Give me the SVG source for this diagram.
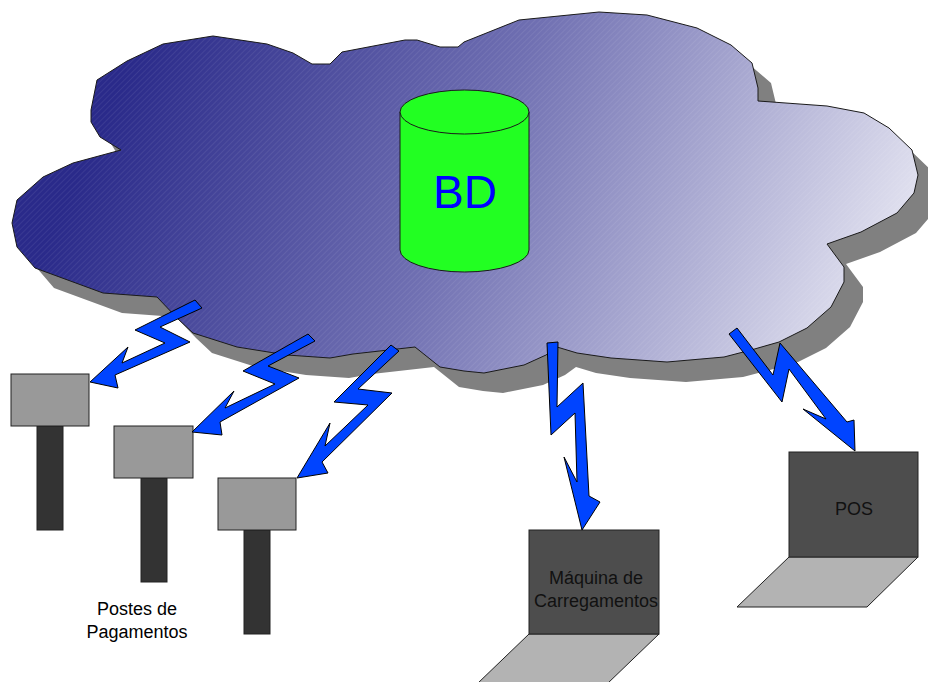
<svg xmlns="http://www.w3.org/2000/svg" width="928" height="682" viewBox="0 0 928 682">
  <style>
    .outline { stroke: #1a1a1a; stroke-width: 1; stroke-linejoin: miter; }
    .bolt { fill: #0044ff; stroke: #000000; stroke-width: 1; stroke-linejoin: miter; }
    .head { fill: #999999; stroke: #222222; stroke-width: 1; }
    .pole { fill: #333333; stroke: #222222; stroke-width: 1; }
    .screen { fill: #4d4d4d; stroke: #222222; stroke-width: 1; }
    .base { fill: #b3b3b3; stroke: #222222; stroke-width: 1; }
    .label { font-family: "Liberation Sans", Arial, sans-serif; font-size: 18px; text-anchor: middle; }
  </style>
  <defs>
    <linearGradient id="skyFill" gradientUnits="userSpaceOnUse" x1="130" y1="60" x2="850" y2="390">
      <stop offset="0" stop-color="#2a2a8a"/>
      <stop offset="0.45" stop-color="#7070b2"/>
      <stop offset="1" stop-color="#e6e6f2"/>
    </linearGradient>
    <pattern id="hatch" patternUnits="userSpaceOnUse" width="4" height="4" patternTransform="rotate(45)">
      <rect x="0" y="0" width="1" height="4" fill="#ffffff"/>
    </pattern>
    <path id="cloudShape" d="M97,80 L127,61 L163,44 L213,36 L267,44 L293,53 L312,64 L330,64 L342,52 L405,40 L417,40 L440,47 L458,47 L464,42 L519,20 L599,12 L647,15 L697,28 L731,45 L752,63 L758,88 L758,101 L827,106 L864,113 L889,128 L912,150 L918,175 L914,193 L897,213 L861,232 L827,244 L844,267 L844,282 L831,307 L807,328 L779,342 L751,350 L724,357 L667,362 L611,358 L577,353 L557,347 L546,355 L524,365 L484,373 L464,371 L440,367 L415,347 L353,354 L330,358 L287,355 L237,347 L193,333 L177,318 L157,297 L103,293 L35,268 L17,247 L12,223 L17,200 L43,177 L73,163 L121,150 L100,137 L91,122 L91,110 Z"/>
  </defs>

  <!-- network cloud with drop shadow -->
  <g id="cloud">
    <use href="#cloudShape" transform="translate(19,20)" fill="#808080"/>
    <use href="#cloudShape" fill="url(#skyFill)"/>
    <use href="#cloudShape" fill="url(#hatch)" opacity="0.07"/>
    <use href="#cloudShape" fill="none" class="outline"/>
  </g>

  <!-- database cylinder -->
  <g id="db">
    <path d="M400,112 L400,250 A64.5,22 0 0 0 529,250 L529,112 Z" fill="#22ff22" class="outline"/>
    <ellipse cx="464.5" cy="112" rx="64.5" ry="22" fill="#22ff22" class="outline"/>
    <text x="465" y="208" font-family="'Liberation Sans', Arial, sans-serif" font-size="46" fill="#0000ff" text-anchor="middle">BD</text>
  </g>

  <!-- payment posts -->
  <g id="post1">
    <rect x="37" y="426" width="26" height="104" class="pole"/>
    <rect x="11" y="374" width="78" height="52" class="head"/>
  </g>
  <g id="post2">
    <rect x="141" y="478" width="26" height="104" class="pole"/>
    <rect x="114" y="426" width="79" height="52" class="head"/>
  </g>
  <g id="post3">
    <rect x="244" y="530" width="26" height="104" class="pole"/>
    <rect x="218" y="478" width="78" height="52" class="head"/>
  </g>
  <g id="postsLabel">
    <text class="label" x="137" y="615">Postes de</text>
    <text class="label" x="137" y="638">Pagamentos</text>
  </g>

  <!-- charging machine terminal -->
  <g id="charger">
    <path d="M529,634 L659,634 L607,684 L477,684 Z" class="base"/>
    <rect x="529" y="530" width="130" height="104" class="screen"/>
    <text class="label" x="596" y="584" fill="#111111">Máquina de</text>
    <text class="label" x="596" y="607" fill="#111111">Carregamentos</text>
  </g>

  <!-- point of sale terminal -->
  <g id="pos">
    <path d="M789,557 L918,557 L867,607 L737,607 Z" class="base"/>
    <rect x="789" y="452" width="129" height="105" class="screen"/>
    <text class="label" x="854" y="515" fill="#111111">POS</text>
  </g>

  <!-- wireless links -->
  <g id="connectors">
    <path class="bolt" d="M195,300 L202,308 L160,327 L190,342 L115,375 L118,388 L90,382 L128,347 L122,363 L165,343 L135,330 Z"/>
    <path class="bolt" d="M308,334 L315,341 L268,366 L299,378 L220,422 L222,435 L192,432 L234,391 L225,408 L275,384 L243,371 Z"/>
    <path class="bolt" d="M391,345 L399,351 L358,389 L392,393 L322,462 L328,473 L297,478 L330,423 L325,446 L368,405 L334,402 Z"/>
    <path class="bolt" d="M547,343 L558,342 L557,407 L583,383 L589,496 L600,502 L582,530 L564,457 L577,482 L575,413 L551,435 Z"/>
    <path class="bolt" d="M729,334 L737,328 L773,375 L780,343 L847,422 L854,420 L855,451 L803,409 L826,419 L789,369 L782,402 Z"/>
  </g>
</svg>
